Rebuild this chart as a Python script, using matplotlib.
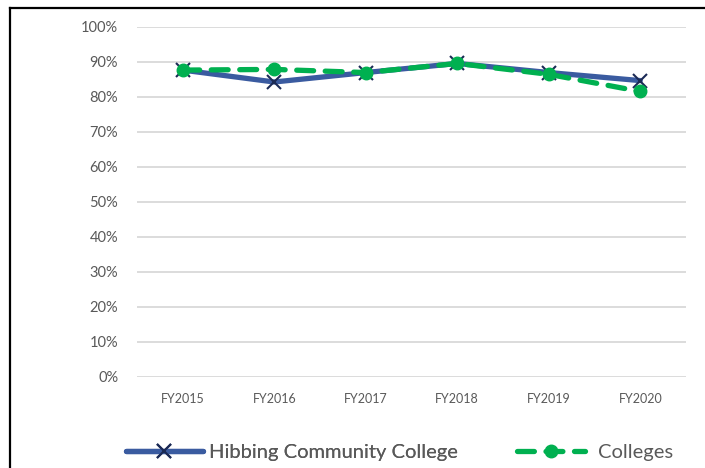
import matplotlib
matplotlib.use("Agg")
import matplotlib.pyplot as plt
from matplotlib.lines import Line2D
from matplotlib.ticker import FuncFormatter

categories = ["FY2015", "FY2016", "FY2017", "FY2018", "FY2019", "FY2020"]
hibbing = [87.6, 84.2, 86.9, 89.5, 86.9, 84.6]
colleges = [87.6, 87.8, 86.9, 89.5, 86.4, 81.5]
series_names = ["Hibbing Community College", "Colleges"]

plt.rcParams['font.family'] = ['Lato', 'DejaVu Sans']

fig = plt.figure(figsize=(7.05, 4.68), dpi=100)
ax = fig.add_axes([137/705, 1-376.7/468, (686-137)/705, (376.7-26.7)/468])

x = list(range(len(categories)))
blue = "#3A5BA0"
green = "#00B050"
l1, = ax.plot(x, hibbing, color=blue, lw=3.8, marker='x', markersize=10, mew=1.5,
              mec="#1B2A55", label=series_names[0], zorder=3, solid_capstyle='round')
l2, = ax.plot(x, colleges, color=green, lw=3.8, linestyle=(0, (3.2, 2.2)), marker='o',
              markersize=9, mec=green, mfc=green, label=series_names[1], zorder=4,
              dash_capstyle='round')

ax.set_xlim(-0.5, len(categories) - 0.5)
ax.set_ylim(0, 100)
ax.set_yticks(range(0, 101, 10))
ax.yaxis.set_major_formatter(FuncFormatter(lambda v, p: f"{int(v)}%"))
ax.set_xticks(x)
ax.set_xticklabels(categories)
ax.grid(axis='y', color="#D9D9D9", lw=1.3)
ax.set_axisbelow(True)
for s in ax.spines.values():
    s.set_visible(False)
ax.tick_params(axis='both', length=0, colors="#595959")
ax.tick_params(axis='y', labelsize=10.5, pad=13.5)
ax.tick_params(axis='x', labelsize=9, pad=12)

fs = 14.5
common = dict(frameon=False, fontsize=fs, borderpad=0,
              borderaxespad=0, labelcolor="#595959", loc='center left')
leg1 = fig.legend([l1], [series_names[0]], bbox_to_anchor=(126/705, 1-452/468),
                  handlelength=3.8, handletextpad=0.3, **common)
fig.add_artist(leg1)
leg2 = fig.legend([l2], [series_names[1]], bbox_to_anchor=(517/705, 1-452/468),
                  handlelength=3.4, handletextpad=0.6, **common)

# outer frame (cropped at right/bottom)
fig.add_artist(Line2D([10/705, 10/705], [0, 1-8/468], transform=fig.transFigure, color='black', lw=1.6))
fig.add_artist(Line2D([10/705, 1], [1-8/468, 1-8/468], transform=fig.transFigure, color='black', lw=1.6))

fig.savefig("out.png", dpi=100)
